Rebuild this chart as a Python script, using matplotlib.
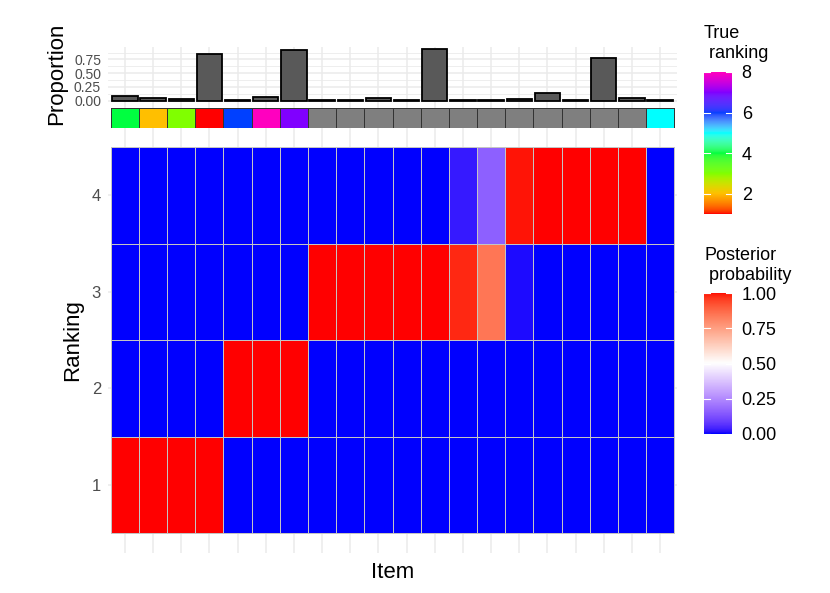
import numpy as np
import matplotlib
matplotlib.use("Agg")
import matplotlib.pyplot as plt
from matplotlib.colors import ListedColormap, to_rgb

plt.rcParams['font.family'] = ['Liberation Sans', 'DejaVu Sans']

# ---------------- data ----------------
items = list(range(1, 21))
proportion = [0.077, 0.046, 0.022, 0.845, 0.018, 0.058, 0.923, 0.012, 0.012, 0.040,
              0.012, 0.935, 0.012, 0.008, 0.027, 0.143, 0.012, 0.770, 0.040, 0.008]
true_ranking = [4, 2, 3, 1, 6, 8, 7, None, None, None, None, None, None, None,
                None, None, None, None, None, 5]
rankings = [1, 2, 3, 4]
post_rank1 = [1, 1, 1, 1, 0, 0, 0, 0, 0, 0, 0, 0, 0, 0, 0, 0, 0, 0, 0, 0]
post_rank2 = [0, 0, 0, 0, 1, 1, 1, 0, 0, 0, 0, 0, 0, 0, 0, 0, 0, 0, 0, 0]
post_rank3 = [0, 0, 0, 0, 0, 0, 0, 1, 1, 1, 1, 1, 0.975, 0.84, 0.01, 0, 0, 0, 0, 0]
post_rank4 = [0, 0, 0, 0, 0, 0, 0, 0, 0, 0, 0, 0, 0.025, 0.16, 0.99, 1, 1, 1, 1, 0]
rank_ticks = [2, 4, 6, 8]
prob_ticks = [0.0, 0.25, 0.5, 0.75, 1.0]
prop_ticks = [0.0, 0.25, 0.5, 0.75]

# ---------------- Lab colour interpolation (like ggplot scales) ----------------
_M = np.array([[0.4124564, 0.3575761, 0.1804375],
               [0.2126729, 0.7151522, 0.0721750],
               [0.0193339, 0.1191920, 0.9503041]])
_W = np.array([0.95047, 1.0, 1.08883])


def rgb2lab(rgb):
    c = np.asarray(rgb, float)
    lin = np.where(c <= 0.04045, c / 12.92, ((c + 0.055) / 1.055) ** 2.4)
    xyz = _M @ lin / _W
    d = 6 / 29
    f = np.where(xyz > d ** 3, np.cbrt(xyz), xyz / (3 * d * d) + 4 / 29)
    return np.array([116 * f[1] - 16, 500 * (f[0] - f[1]), 200 * (f[1] - f[2])])


def lab2rgb(lab):
    L, a, b = lab
    fy = (L + 16) / 116
    fx = fy + a / 500
    fz = fy - b / 200
    d = 6 / 29
    f = np.array([fx, fy, fz])
    xyz = np.where(f > d, f ** 3, 3 * d * d * (f - 4 / 29)) * _W
    lin = np.linalg.solve(_M, xyz)
    lin = np.clip(lin, 0, 1)
    c = np.where(lin <= 0.0031308, 12.92 * lin, 1.055 * lin ** (1 / 2.4) - 0.055)
    return np.clip(c, 0, 1)


def lab_cmap(colors, n=256):
    labs = [rgb2lab(to_rgb(c)) for c in colors]
    pos = np.linspace(0, 1, len(colors))
    out = []
    for t in np.linspace(0, 1, n):
        i = min(np.searchsorted(pos, t, side='right') - 1, len(colors) - 2)
        u = (t - pos[i]) / (pos[i + 1] - pos[i])
        out.append(lab2rgb(labs[i] * (1 - u) + labs[i + 1] * u))
    return ListedColormap(out)


post_cmap = lab_cmap(['#0000FF', '#FFFFFF', '#FF0000'])
rainbow8 = ['#FF0000', '#FFBF00', '#80FF00', '#00FF40', '#00FFFF', '#0040FF', '#8000FF', '#FF00BF']
rank_cmap = lab_cmap(rainbow8, 512)
rank_cmap.set_bad('#7F7F7F')

# ---------------- figure ----------------
W, H = 830, 593
fig = plt.figure(figsize=(W / 100, H / 100), dpi=100)


def px_axes(x0, y0, x1, y1):
    return fig.add_axes([x0 / W, 1 - y1 / H, (x1 - x0) / W, (y1 - y0) / H])


GRID = '#EBEBEB'
XL = (0.4, 20.6)

# bar panel
axb = px_axes(108, 46.7, 677, 104)
axb.set_axisbelow(True)
axb.bar(items, proportion, width=0.9, color='#595959', edgecolor='black', linewidth=1.3, zorder=3)
axb.set_xlim(*XL)
axb.set_ylim(-0.064, 0.984)
axb.set_yticks(prop_ticks)
axb.set_yticklabels([f'{v:.2f}' for v in prop_ticks], fontsize=10, color='#4D4D4D')
axb.set_yticks([0.125, 0.375, 0.625, 0.875], minor=True)
axb.set_xticks(items)
axb.set_xticklabels([])
axb.tick_params(axis='both', which='both', length=0, pad=5)
axb.grid(True, which='major', color=GRID, linewidth=1.1)
axb.grid(True, which='minor', axis='y', color=GRID, linewidth=0.6)
for s in axb.spines.values():
    s.set_visible(False)

# true ranking strip
axs = px_axes(108, 104, 677, 128)
axs.set_axisbelow(True)
strip_vals = np.ma.masked_invalid(np.array([[np.nan if v is None else v for v in true_ranking]], float))
axs.pcolormesh(np.arange(0.5, 21, 1), [0, 1], strip_vals, cmap=rank_cmap, vmin=1, vmax=8,
               edgecolors='#333333', linewidth=0.5, zorder=3)
axs.set_xlim(*XL)
axs.set_ylim(0, 1.2)
axs.set_xticks(items)
axs.set_xticklabels([])
axs.set_yticks([])
axs.tick_params(length=0)
axs.grid(True, axis='x', color=GRID, linewidth=1.1)
for s in axs.spines.values():
    s.set_visible(False)

# heatmap panel
axh = px_axes(108, 127.7, 677, 552.7)
axh.set_axisbelow(True)
post = np.array([post_rank1, post_rank2, post_rank3, post_rank4], float)
axh.pcolormesh(np.arange(0.5, 21, 1), np.arange(0.5, 5, 1), post, cmap=post_cmap, vmin=0, vmax=1,
               edgecolors='#C4C4C4', linewidth=0.45, zorder=3)
axh.set_xlim(*XL)
axh.set_ylim(0.3, 4.7)
axh.set_xticks(items)
axh.set_xticklabels([])
axh.set_yticks(rankings)
axh.set_yticklabels([str(r) for r in rankings], fontsize=12, color='#4D4D4D')
axh.tick_params(axis='both', length=0, pad=5)
axh.grid(True, color=GRID, linewidth=1.1)
for s in axh.spines.values():
    s.set_visible(False)

# axis titles
fig.text(57 / W, 1 - 74 / H, 'Proportion', rotation=90, ha='center', va='center', fontsize=16)
fig.text(73 / W, 1 - 340 / H, 'Ranking', rotation=90, ha='center', va='center', fontsize=16)
fig.text(392.5 / W, 1 - 572 / H, 'Item', ha='center', va='center', fontsize=16)


# legends
def colorbar(x0, y0, x1, y1, cmap, vmin, vmax, ticks, labels):
    cax = px_axes(x0, y0, x1, y1)
    grad = np.linspace(vmin, vmax, 300).reshape(-1, 1)
    cax.imshow(grad, aspect='auto', cmap=cmap, vmin=vmin, vmax=vmax,
               extent=[0, 1, vmin, vmax], origin='lower')
    for t in ticks:
        cax.plot([0, 0.2], [t, t], color='white', linewidth=0.8)
        cax.plot([0.8, 1], [t, t], color='white', linewidth=0.8)
    cax.set_xlim(0, 1)
    cax.set_ylim(vmin, vmax)
    cax.set_xticks([])
    cax.yaxis.tick_right()
    cax.set_yticks(ticks)
    cax.set_yticklabels(labels, fontsize=13, color='black')
    cax.tick_params(length=0, pad=7)
    for s in cax.spines.values():
        s.set_visible(False)


fig.text(704 / W, 1 - 33 / H, 'True', ha='left', va='center', fontsize=13)
fig.text(704 / W, 1 - 53 / H, ' ranking', ha='left', va='center', fontsize=13)
colorbar(704, 72, 732, 214, rank_cmap, 1, 8, rank_ticks, [str(t) for t in rank_ticks])

fig.text(704 / W, 1 - 256 / H, 'Posterior', ha='left', va='center', fontsize=13)
fig.text(704 / W, 1 - 275 / H, ' probability', ha='left', va='center', fontsize=13)
colorbar(704, 293, 732, 434, post_cmap, 0, 1, prob_ticks, [f'{t:.2f}' for t in prob_ticks])

fig.savefig('out.png', dpi=100, facecolor='white')
